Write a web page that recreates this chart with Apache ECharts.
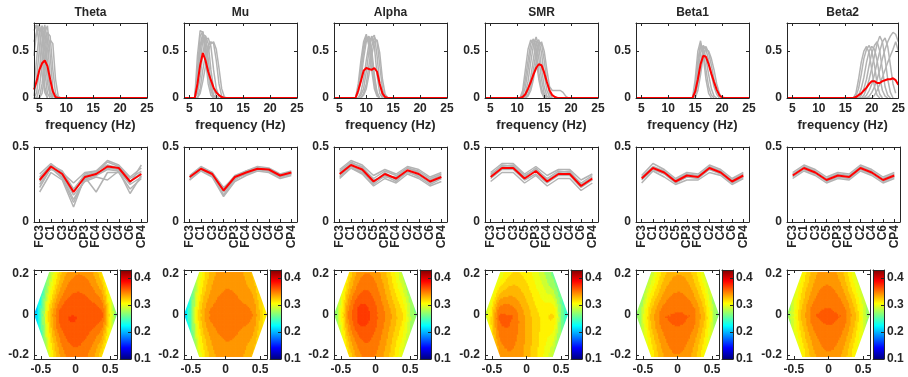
<!DOCTYPE html>
<html><head><meta charset="utf-8">
<script src="https://cdn.jsdelivr.net/npm/echarts@6.0.0/dist/echarts.min.js"></script>
<style>html,body{margin:0;padding:0;background:#fff;}#chart{width:908px;height:377px;}</style>
</head><body><div id="chart"></div>
<script>
// ================= DATA =================
const BANDS = ['Theta', 'Mu', 'Alpha', 'SMR', 'Beta1', 'Beta2'];
const FREQ_RANGE = [4, 25];
const FREQ_STEP = 0.5;
const FREQ_TICKS = [5, 10, 15, 20, 25];
const SPEC_Y_RANGE = [0, 0.8];
const SPEC_Y_TICKS = [0, 0.5];

// spectra: [first frequency (Hz), values every 0.5 Hz]; value is 0 outside the listed segment
const SPEC_GRAY_THETA = [
  [4, [0.78, 0.76, 0.55, 0.25, 0.06, 0]],
  [4, [0.72, 0.78, 0.72, 0.45, 0.12, 0]],
  [4, [0.45, 0.72, 0.78, 0.65, 0.28, 0.05, 0]],
  [4, [0.12, 0.42, 0.72, 0.77, 0.52, 0.16, 0.02, 0]],
  [4, [0.02, 0.22, 0.52, 0.77, 0.72, 0.38, 0.06, 0]],
  [4, [0, 0.06, 0.30, 0.60, 0.78, 0.62, 0.22, 0.03, 0]],
  [4, [0, 0, 0.10, 0.38, 0.70, 0.77, 0.46, 0.10, 0]],
  [4, [0, 0, 0, 0.15, 0.45, 0.70, 0.66, 0.30, 0.05, 0]],
  [4, [0, 0, 0, 0.05, 0.26, 0.52, 0.62, 0.58, 0.20, 0.02, 0]],
  [4, [0.60, 0.70, 0.74, 0.70, 0.55, 0.30, 0.08, 0]]
];
const SPEC_MEAN_THETA = [4, [0.09, 0.18, 0.30, 0.37, 0.40, 0.34, 0.20, 0.07, 0.01, 0]];

const SPEC_GRAY_MU = [
  [6, [0, 0.45, 0.72, 0.70, 0.42, 0.15, 0.03, 0]],
  [6, [0, 0.30, 0.66, 0.71, 0.55, 0.26, 0.08, 0]],
  [6, [0, 0.20, 0.50, 0.68, 0.66, 0.42, 0.16, 0.03, 0]],
  [6, [0, 0.10, 0.38, 0.62, 0.66, 0.58, 0.30, 0.10, 0.02, 0]],
  [6, [0, 0.05, 0.22, 0.48, 0.62, 0.64, 0.55, 0.30, 0.10, 0.02, 0]],
  [6, [0, 0, 0.10, 0.30, 0.46, 0.56, 0.60, 0.58, 0.40, 0.15, 0.02, 0]],
  [6, [0, 0, 0.05, 0.18, 0.34, 0.50, 0.58, 0.60, 0.52, 0.32, 0.10, 0.01, 0]],
  [6, [0, 0.22, 0.56, 0.69, 0.52, 0.30, 0.10, 0.02, 0]]
];
const SPEC_MEAN_MU = [6, [0, 0.15, 0.35, 0.48, 0.40, 0.28, 0.19, 0.11, 0.06, 0.03, 0.01, 0]];

const SPEC_GRAY_ALPHA = [
  [8, [0, 0.15, 0.40, 0.60, 0.68, 0.55, 0.30, 0.10, 0.02, 0]],
  [8, [0, 0.10, 0.32, 0.55, 0.66, 0.62, 0.40, 0.15, 0.03, 0]],
  [8, [0, 0.05, 0.20, 0.42, 0.60, 0.66, 0.52, 0.25, 0.06, 0]],
  [8, [0, 0, 0.06, 0.20, 0.40, 0.58, 0.66, 0.55, 0.25, 0.05, 0]],
  [8, [0, 0, 0.03, 0.10, 0.28, 0.50, 0.64, 0.67, 0.45, 0.15, 0.02, 0]],
  [8, [0, 0, 0, 0.05, 0.15, 0.35, 0.55, 0.65, 0.60, 0.35, 0.10, 0.01, 0]],
  [8, [0, 0.08, 0.28, 0.50, 0.64, 0.60, 0.45, 0.20, 0.05, 0]],
  [8, [0, 0, 0, 0.03, 0.10, 0.25, 0.45, 0.60, 0.62, 0.48, 0.20, 0.04, 0]]
];
const SPEC_MEAN_ALPHA = [8, [0, 0.08, 0.18, 0.29, 0.32, 0.31, 0.30, 0.32, 0.28, 0.15, 0.05, 0.01, 0]];

const SPEC_GRAY_SMR = [
  [10.5, [0, 0.05, 0.20, 0.40, 0.58, 0.63, 0.50, 0.28, 0.10, 0.02, 0]],
  [10.5, [0, 0.02, 0.12, 0.30, 0.50, 0.62, 0.60, 0.42, 0.20, 0.05, 0]],
  [10.5, [0, 0, 0.05, 0.18, 0.38, 0.56, 0.65, 0.55, 0.32, 0.12, 0.02, 0]],
  [10.5, [0, 0, 0.02, 0.08, 0.22, 0.42, 0.60, 0.62, 0.48, 0.25, 0.08, 0.01, 0]],
  [10.5, [0, 0, 0, 0.04, 0.12, 0.30, 0.50, 0.60, 0.58, 0.40, 0.18, 0.05, 0]],
  [10.5, [0, 0, 0, 0.02, 0.08, 0.20, 0.38, 0.55, 0.60, 0.50, 0.30, 0.12, 0.08, 0.08, 0.08, 0.08, 0.06, 0.02, 0]],
  [10.5, [0, 0.08, 0.30, 0.52, 0.62, 0.58, 0.40, 0.20, 0.06, 0]]
];
const SPEC_MEAN_SMR = [10.5, [0, 0.01, 0.04, 0.10, 0.17, 0.25, 0.32, 0.36, 0.35, 0.27, 0.17, 0.08, 0.03, 0.01, 0]];

const SPEC_GRAY_BETA1 = [
  [14.5, [0, 0.20, 0.50, 0.61, 0.45, 0.20, 0.05, 0]],
  [14.5, [0, 0.08, 0.35, 0.55, 0.55, 0.42, 0.25, 0.10, 0.02, 0]],
  [14.5, [0, 0.05, 0.25, 0.48, 0.56, 0.52, 0.40, 0.25, 0.12, 0.04, 0]],
  [14.5, [0, 0.02, 0.15, 0.38, 0.52, 0.55, 0.48, 0.35, 0.20, 0.08, 0.02, 0]],
  [14.5, [0, 0, 0.08, 0.25, 0.45, 0.52, 0.50, 0.42, 0.30, 0.15, 0.05, 0]],
  [14.5, [0, 0.10, 0.40, 0.58, 0.50, 0.30, 0.12, 0.03, 0]]
];
const SPEC_MEAN_BETA1 = [14.5, [0, 0.07, 0.20, 0.36, 0.45, 0.44, 0.36, 0.26, 0.17, 0.09, 0.03, 0.005, 0]];

const SPEC_GRAY_BETA2 = [
  [16.5, [0, 0.05, 0.20, 0.38, 0.50, 0.55, 0.48, 0.30, 0.12, 0.03, 0]],
  [16.5, [0, 0.02, 0.10, 0.25, 0.42, 0.52, 0.56, 0.50, 0.35, 0.15, 0.04, 0]],
  [16.5, [0, 0, 0.03, 0.10, 0.22, 0.38, 0.50, 0.55, 0.52, 0.40, 0.22, 0.08, 0.02, 0]],
  [16.5, [0, 0, 0, 0.03, 0.10, 0.20, 0.35, 0.48, 0.56, 0.60, 0.50, 0.30, 0.12, 0.03, 0]],
  [16.5, [0, 0, 0, 0, 0.03, 0.10, 0.20, 0.32, 0.45, 0.58, 0.66, 0.60, 0.42, 0.20, 0.06, 0]],
  [16.5, [0, 0, 0, 0, 0, 0.03, 0.08, 0.15, 0.25, 0.38, 0.50, 0.60, 0.64, 0.55, 0.35, 0.15, 0.05]],
  [16.5, [0, 0, 0, 0, 0, 0, 0.02, 0.06, 0.12, 0.20, 0.30, 0.42, 0.52, 0.60, 0.66, 0.70, 0.68, 0.60]],
  [16.5, [0, 0, 0, 0, 0, 0, 0, 0, 0.03, 0.08, 0.15, 0.22, 0.30, 0.38, 0.45, 0.52, 0.60, 0.50]]
];
const SPEC_MEAN_BETA2 = [16.5, [0, 0.01, 0.03, 0.05, 0.08, 0.11, 0.15, 0.18, 0.18, 0.16, 0.16, 0.18, 0.19, 0.20, 0.20, 0.21, 0.19, 0.14]];

// channel profiles
const CHANNELS = ['FC3', 'C1', 'C3', 'C5', 'CP3', 'FC4', 'C2', 'C4', 'C6', 'CP4'];
const PROF_Y_RANGE = [0, 0.5];
const PROF_Y_TICKS = [0, 0.5];

const PROF_GRAY_THETA = [
  [0.30, 0.38, 0.34, 0.22, 0.31, 0.33, 0.40, 0.37, 0.29, 0.34],
  [0.25, 0.36, 0.30, 0.15, 0.28, 0.31, 0.35, 0.34, 0.25, 0.30],
  [0.20, 0.33, 0.28, 0.10, 0.30, 0.20, 0.33, 0.33, 0.22, 0.29],
  [0.32, 0.39, 0.33, 0.26, 0.33, 0.34, 0.41, 0.38, 0.30, 0.36],
  [0.27, 0.37, 0.31, 0.18, 0.27, 0.30, 0.28, 0.34, 0.19, 0.31],
  [0.29, 0.35, 0.33, 0.21, 0.32, 0.34, 0.38, 0.36, 0.27, 0.33],
  [0.23, 0.36, 0.29, 0.13, 0.29, 0.32, 0.36, 0.35, 0.26, 0.38]
];
const PROF_MEAN_THETA = [0.28, 0.37, 0.32, 0.20, 0.30, 0.32, 0.37, 0.36, 0.27, 0.32];

const PROF_GRAY_MU = [
  [0.28, 0.35, 0.31, 0.18, 0.29, 0.32, 0.35, 0.34, 0.30, 0.32],
  [0.31, 0.37, 0.33, 0.22, 0.31, 0.34, 0.37, 0.36, 0.32, 0.34],
  [0.29, 0.36, 0.32, 0.20, 0.28, 0.33, 0.36, 0.35, 0.31, 0.33],
  [0.30, 0.36, 0.33, 0.23, 0.30, 0.32, 0.35, 0.34, 0.30, 0.32],
  [0.28, 0.34, 0.30, 0.17, 0.27, 0.31, 0.34, 0.33, 0.29, 0.31],
  [0.30, 0.36, 0.32, 0.21, 0.30, 0.34, 0.36, 0.35, 0.31, 0.33]
];
const PROF_MEAN_MU = [0.30, 0.355, 0.32, 0.21, 0.30, 0.33, 0.355, 0.35, 0.31, 0.33];

const PROF_GRAY_ALPHA = [
  [0.35, 0.41, 0.38, 0.31, 0.35, 0.32, 0.37, 0.35, 0.30, 0.33],
  [0.29, 0.36, 0.32, 0.24, 0.29, 0.26, 0.32, 0.29, 0.24, 0.27],
  [0.34, 0.40, 0.36, 0.29, 0.34, 0.31, 0.36, 0.34, 0.29, 0.32],
  [0.31, 0.37, 0.34, 0.25, 0.31, 0.27, 0.34, 0.30, 0.25, 0.29],
  [0.33, 0.39, 0.37, 0.28, 0.30, 0.30, 0.36, 0.33, 0.28, 0.31],
  [0.30, 0.36, 0.33, 0.26, 0.33, 0.28, 0.33, 0.31, 0.26, 0.30]
];
const PROF_MEAN_ALPHA = [0.32, 0.38, 0.35, 0.27, 0.32, 0.29, 0.345, 0.32, 0.27, 0.30];

const PROF_GRAY_SMR = [
  [0.33, 0.39, 0.39, 0.32, 0.37, 0.31, 0.35, 0.35, 0.28, 0.32],
  [0.27, 0.33, 0.33, 0.26, 0.31, 0.24, 0.29, 0.29, 0.21, 0.26],
  [0.31, 0.38, 0.37, 0.30, 0.36, 0.28, 0.33, 0.34, 0.25, 0.30],
  [0.29, 0.35, 0.35, 0.28, 0.32, 0.26, 0.31, 0.31, 0.23, 0.28],
  [0.32, 0.37, 0.38, 0.31, 0.35, 0.29, 0.34, 0.33, 0.26, 0.31]
];
const PROF_MEAN_SMR = [0.30, 0.36, 0.36, 0.29, 0.34, 0.27, 0.32, 0.32, 0.24, 0.29];

const PROF_GRAY_BETA1 = [
  [0.31, 0.39, 0.35, 0.29, 0.33, 0.32, 0.38, 0.35, 0.29, 0.33],
  [0.26, 0.34, 0.30, 0.25, 0.28, 0.28, 0.33, 0.31, 0.25, 0.29],
  [0.30, 0.37, 0.34, 0.28, 0.32, 0.31, 0.37, 0.34, 0.28, 0.32],
  [0.28, 0.35, 0.32, 0.26, 0.30, 0.29, 0.35, 0.32, 0.26, 0.30]
];
const PROF_MEAN_BETA1 = [0.29, 0.36, 0.33, 0.27, 0.31, 0.30, 0.36, 0.33, 0.27, 0.31];

const PROF_GRAY_BETA2 = [
  [0.33, 0.38, 0.35, 0.30, 0.33, 0.32, 0.38, 0.35, 0.30, 0.33],
  [0.29, 0.34, 0.31, 0.26, 0.29, 0.28, 0.34, 0.31, 0.26, 0.29],
  [0.32, 0.37, 0.34, 0.29, 0.32, 0.31, 0.37, 0.34, 0.29, 0.32],
  [0.30, 0.35, 0.32, 0.27, 0.30, 0.29, 0.35, 0.32, 0.27, 0.30]
];
const PROF_MEAN_BETA2 = [0.31, 0.36, 0.33, 0.28, 0.31, 0.30, 0.36, 0.33, 0.28, 0.31];

// scalp map: electrode coordinates (same order as CHANNELS); maps show the mean values
const ELEC_X = [-0.38, -0.2, -0.4, -0.6, -0.38, 0.38, 0.2, 0.4, 0.6, 0.38];
const ELEC_Y = [0.21, 0, 0, 0, -0.21, 0.21, 0, 0, 0, -0.21];
const MAP_X_RANGE = [-0.6, 0.6];
const MAP_Y_RANGE = [-0.22, 0.22];
const MAP_X_TICKS = [-0.5, 0, 0.5];
const MAP_Y_TICKS = [-0.2, 0, 0.2];
const CBAR_RANGE = [0.1, 0.43];
const CBAR_TICKS = [0.1, 0.2, 0.3, 0.4];
const CONTOUR_LEVELS = [0.10, 0.12, 0.14, 0.16, 0.18, 0.20, 0.215, 0.23, 0.245, 0.26, 0.275, 0.29, 0.30, 0.31, 0.32, 0.33, 0.34, 0.35, 0.36, 0.37, 0.38, 0.40, 0.42];

const SPEC_GRAY = [SPEC_GRAY_THETA, SPEC_GRAY_MU, SPEC_GRAY_ALPHA, SPEC_GRAY_SMR, SPEC_GRAY_BETA1, SPEC_GRAY_BETA2];
const SPEC_MEAN = [SPEC_MEAN_THETA, SPEC_MEAN_MU, SPEC_MEAN_ALPHA, SPEC_MEAN_SMR, SPEC_MEAN_BETA1, SPEC_MEAN_BETA2];
const PROF_GRAY = [PROF_GRAY_THETA, PROF_GRAY_MU, PROF_GRAY_ALPHA, PROF_GRAY_SMR, PROF_GRAY_BETA1, PROF_GRAY_BETA2];
const PROF_MEAN = [PROF_MEAN_THETA, PROF_MEAN_MU, PROF_MEAN_ALPHA, PROF_MEAN_SMR, PROF_MEAN_BETA1, PROF_MEAN_BETA2];

// ================= LAYOUT / STYLE =================
const COL_LEFT = [34, 184, 334, 485, 636, 787];
const PLOT_W = 113;
const ROW_TOP = [23, 147, 270];
const ROW_H = [75, 75, 89];
const MAP_W = 83, CB_GAP = 3, CB_W = 11;
const INK = '#262626';
const FONT = { fontFamily: 'Liberation Sans, Arial, Helvetica, sans-serif', fontWeight: 'bold', fontSize: 12, color: INK };
const GRAY = '#b3b3b3';

function jetRGB(t) {
  t = Math.max(0, Math.min(1, t));
  const c = v => Math.round(255 * Math.max(0, Math.min(1, v)));
  return 'rgb(' + c(1.5 - Math.abs(4 * t - 3)) + ',' + c(1.5 - Math.abs(4 * t - 2)) + ',' + c(1.5 - Math.abs(4 * t - 1)) + ')';
}
const cbT = v => (v - CBAR_RANGE[0]) / (CBAR_RANGE[1] - CBAR_RANGE[0]);

// ---- map rendering: smooth surface through the electrode values ----
function biharmonic(xs, ys, zs) {
  const n = xs.length;
  const g = r => r < 1e-12 ? 0 : r * r * (Math.log(r) - 1);
  const A = [];
  for (let i = 0; i < n; i++) {
    A.push([]);
    for (let j = 0; j < n; j++) A[i].push(g(Math.hypot(xs[i] - xs[j], ys[i] - ys[j])));
    A[i].push(zs[i]);
  }
  for (let k = 0; k < n; k++) {
    let p = k;
    for (let i = k + 1; i < n; i++) if (Math.abs(A[i][k]) > Math.abs(A[p][k])) p = i;
    [A[k], A[p]] = [A[p], A[k]];
    for (let i = k + 1; i < n; i++) {
      const f = A[i][k] / A[k][k];
      for (let j = k; j <= n; j++) A[i][j] -= f * A[k][j];
    }
  }
  const w = new Array(n).fill(0);
  for (let i = n - 1; i >= 0; i--) {
    let s = A[i][n];
    for (let j = i + 1; j < n; j++) s -= A[i][j] * w[j];
    w[i] = s / A[i][i];
  }
  return (x, y) => { let s = 0; for (let j = 0; j < n; j++) s += w[j] * g(Math.hypot(x - xs[j], y - ys[j])); return s; };
}
function mapSurface(xs, ys, zs, NX, NY, xr, yr) {
  const dx = (xr[1] - xr[0]) / NX, dy = (yr[1] - yr[0]) / NY;
  const PX = 10, PY = 24;
  const sum = new Float64Array(NX * NY), cnt = new Float64Array(NX * NY);
  // discrete natural-neighbour accumulation
  for (let i = -PX; i < NX + PX; i++) {
    const qx = xr[0] + (i + 0.5) * dx;
    for (let j = -PY; j < NY + PY; j++) {
      const qy = yr[0] + (j + 0.5) * dy;
      let best = Infinity, bz = 0;
      for (let k = 0; k < xs.length; k++) {
        const d2 = (qx - xs[k]) ** 2 + (qy - ys[k]) ** 2;
        if (d2 < best) { best = d2; bz = zs[k]; }
      }
      const r = Math.sqrt(best);
      const ri = Math.ceil(r / dx), rj = Math.ceil(r / dy);
      const a0 = Math.max(0, i - ri), a1 = Math.min(NX - 1, i + ri);
      const b0 = Math.max(0, j - rj), b1 = Math.min(NY - 1, j + rj);
      for (let a = a0; a <= a1; a++) {
        const ddx = (a - i) * dx, ddx2 = ddx * ddx;
        for (let b = b0; b <= b1; b++) {
          const ddy = (b - j) * dy;
          if (ddx2 + ddy * ddy <= best) { sum[a * NY + b] += bz; cnt[a * NY + b] += 1; }
        }
      }
    }
  }
  const bh = biharmonic(xs, ys, zs);
  const cells = [];
  for (let a = 0; a < NX; a++) for (let b = 0; b < NY; b++) {
    const x = xr[0] + (a + 0.5) * dx, y = yr[0] + (b + 0.5) * dy;
    const nn = cnt[a * NY + b] > 0 ? sum[a * NY + b] / cnt[a * NY + b] : bh(x, y);
    cells.push([x, y, 0.5 * nn + 0.5 * bh(x, y)]);
  }
  return { cells, dx, dy };
}

// convex hull (monotone chain) of electrodes -> upper and lower chains
function hullChains(xs, ys) {
  const pts = xs.map((x, i) => [x, ys[i]]).sort((a, b) => a[0] - b[0] || a[1] - b[1]);
  const cross = (o, a, b) => (a[0] - o[0]) * (b[1] - o[1]) - (a[1] - o[1]) * (b[0] - o[0]);
  const lower = [], upper = [];
  for (const p of pts) { while (lower.length >= 2 && cross(lower[lower.length - 2], lower[lower.length - 1], p) <= 0) lower.pop(); lower.push(p); }
  for (const p of pts) { while (upper.length >= 2 && cross(upper[upper.length - 2], upper[upper.length - 1], p) >= 0) upper.pop(); upper.push(p); }
  return { upper, lower };
}
const HULL = hullChains(ELEC_X, ELEC_Y);

function spectrumPoints(seg, full) {
  const [start, vals] = seg;
  if (!full) return vals.map((v, i) => [start + i * FREQ_STEP, v]);
  const out = [];
  const n = Math.round((FREQ_RANGE[1] - FREQ_RANGE[0]) / FREQ_STEP);
  for (let k = 0; k <= n; k++) {
    const f = FREQ_RANGE[0] + k * FREQ_STEP;
    const idx = Math.round((f - start) / FREQ_STEP);
    out.push([f, idx >= 0 && idx < vals.length ? vals[idx] : 0]);
  }
  return out;
}

// ================= OPTION =================
const grids = [], xAxes = [], yAxes = [], series = [], mapSeriesIdx = [];

function valAxis(gridIndex, pos, min, max, ticks, showLabel, extra) {
  return Object.assign({
    gridIndex, type: 'value', position: pos, min, max, z: 10,
    axisLine: { show: true, onZero: false, lineStyle: { color: INK, width: 1 } },
    axisTick: { show: true, inside: true, length: 3, customValues: ticks, lineStyle: { color: INK } },
    axisLabel: { show: showLabel, customValues: ticks, margin: 5, ...FONT },
    splitLine: { show: false }
  }, extra || {});
}
function catAxis(gridIndex, pos, showLabel) {
  return {
    gridIndex, type: 'category', position: pos, data: CHANNELS, boundaryGap: true, z: 10,
    axisLine: { show: true, onZero: false, lineStyle: { color: INK, width: 1 } },
    axisTick: { show: true, inside: true, length: 3, alignWithLabel: true, interval: 0, lineStyle: { color: INK } },
    axisLabel: { show: showLabel, rotate: 90, interval: 0, margin: 3, ...FONT },
    splitLine: { show: false }
  };
}

BANDS.forEach((band, c) => {
  const L = COL_LEFT[c];
  // ---- row 1 spectra ----
  let gi = grids.length;
  grids.push({ left: L, top: ROW_TOP[0], width: PLOT_W, height: ROW_H[0] });
  let xi = xAxes.length, yi = yAxes.length;
  xAxes.push(valAxis(gi, 'bottom', FREQ_RANGE[0], FREQ_RANGE[1], FREQ_TICKS, true,
    { name: 'frequency (Hz)', nameLocation: 'middle', nameGap: 21, nameTextStyle: { ...FONT, fontSize: 13 } }));
  xAxes.push(valAxis(gi, 'top', FREQ_RANGE[0], FREQ_RANGE[1], FREQ_TICKS, false,
    { name: band, nameLocation: 'middle', nameGap: 4, nameTextStyle: { ...FONT } }));
  yAxes.push(valAxis(gi, 'left', SPEC_Y_RANGE[0], SPEC_Y_RANGE[1], SPEC_Y_TICKS, true));
  yAxes.push(valAxis(gi, 'right', SPEC_Y_RANGE[0], SPEC_Y_RANGE[1], SPEC_Y_TICKS, false));
  SPEC_GRAY[c].forEach(seg => series.push({
    type: 'line', xAxisIndex: xi, yAxisIndex: yi, data: spectrumPoints(seg, false), symbol: 'none',
    lineStyle: { color: GRAY, width: 1.5 }, z: 2, silent: true, animation: false, clip: true
  }));
  series.push({
    type: 'line', xAxisIndex: xi, yAxisIndex: yi, data: spectrumPoints(SPEC_MEAN[c], true), symbol: 'none',
    lineStyle: { color: '#ff0000', width: 2 }, z: 3, silent: true, animation: false, clip: true
  });

  // ---- row 2 channel profiles ----
  gi = grids.length;
  grids.push({ left: L, top: ROW_TOP[1], width: PLOT_W, height: ROW_H[1] });
  xi = xAxes.length; yi = yAxes.length;
  xAxes.push(catAxis(gi, 'bottom', true));
  xAxes.push(catAxis(gi, 'top', false));
  yAxes.push(valAxis(gi, 'left', PROF_Y_RANGE[0], PROF_Y_RANGE[1], PROF_Y_TICKS, true));
  yAxes.push(valAxis(gi, 'right', PROF_Y_RANGE[0], PROF_Y_RANGE[1], PROF_Y_TICKS, false));
  PROF_GRAY[c].forEach(vals => series.push({
    type: 'line', xAxisIndex: xi, yAxisIndex: yi, data: vals, symbol: 'none',
    lineStyle: { color: GRAY, width: 1.5 }, z: 2, silent: true, animation: false
  }));
  series.push({
    type: 'line', xAxisIndex: xi, yAxisIndex: yi, data: PROF_MEAN[c], symbol: 'none',
    lineStyle: { color: '#ff0000', width: 2 }, z: 3, silent: true, animation: false
  });

  // ---- row 3 scalp map ----
  gi = grids.length;
  grids.push({ left: L, top: ROW_TOP[2], width: MAP_W, height: ROW_H[2] });
  xi = xAxes.length; yi = yAxes.length;
  xAxes.push(valAxis(gi, 'bottom', MAP_X_RANGE[0], MAP_X_RANGE[1], MAP_X_TICKS, true));
  xAxes.push(valAxis(gi, 'top', MAP_X_RANGE[0], MAP_X_RANGE[1], MAP_X_TICKS, false));
  yAxes.push(valAxis(gi, 'left', MAP_Y_RANGE[0], MAP_Y_RANGE[1], MAP_Y_TICKS, true));
  yAxes.push(valAxis(gi, 'right', MAP_Y_RANGE[0], MAP_Y_RANGE[1], MAP_Y_TICKS, false));
  const surf = mapSurface(ELEC_X, ELEC_Y, PROF_MEAN[c], 60, 64, MAP_X_RANGE, MAP_Y_RANGE);
  const dx = surf.dx, dy = surf.dy;
  mapSeriesIdx.push(series.length);
  series.push({
    type: 'custom', xAxisIndex: xi, yAxisIndex: yi, data: surf.cells, silent: true, animation: false, clip: true, z: 2,
    progressive: 0, progressiveThreshold: 1e9,
    encode: { x: 0, y: 1 },
    renderItem: (params, api) => {
      const p = api.coord([api.value(0) - dx / 2, api.value(1) + dy / 2]);
      const s = api.size([dx, dy]);
      return { type: 'rect', shape: { x: p[0], y: p[1], width: s[0] + 0.7, height: s[1] + 0.7 }, style: { fill: api.visual('color') } };
    }
  });
  // white outside the electrode hull
  const ymaxPad = MAP_Y_RANGE[1] + 0.05, yminPad = MAP_Y_RANGE[0] - 0.05;
  series.push({
    type: 'custom', xAxisIndex: xi, yAxisIndex: yi, data: [[0, 0]], silent: true, animation: false, clip: true, z: 3,
    progressive: 0,
    renderItem: (params, api) => {
      const up = HULL.upper.map(p => api.coord(p));
      const lo = HULL.lower.map(p => api.coord(p));
      const x0 = MAP_X_RANGE[0] - 0.05, x1 = MAP_X_RANGE[1] + 0.05;
      const topPoly = [api.coord([x0, HULL.upper[0][1]]), api.coord([x0, ymaxPad]), api.coord([x1, ymaxPad]), api.coord([x1, HULL.upper[HULL.upper.length - 1][1]])].concat(up.slice().reverse());
      const botPoly = [api.coord([x0, HULL.lower[0][1]]), api.coord([x0, yminPad]), api.coord([x1, yminPad]), api.coord([x1, HULL.lower[HULL.lower.length - 1][1]])].concat(lo.slice().reverse());
      return { type: 'group', children: [
        { type: 'polygon', shape: { points: topPoly }, style: { fill: '#fff' } },
        { type: 'polygon', shape: { points: botPoly }, style: { fill: '#fff' } }
      ] };
    }
  });

  // ---- colorbar ----
  gi = grids.length;
  grids.push({ left: L + MAP_W + CB_GAP, top: ROW_TOP[2], width: CB_W, height: ROW_H[2] });
  xi = xAxes.length; yi = yAxes.length;
  xAxes.push({ gridIndex: gi, type: 'value', min: 0, max: 1, position: 'bottom', z: 10,
    axisLine: { show: true, onZero: false, lineStyle: { color: INK } }, axisTick: { show: false }, axisLabel: { show: false }, splitLine: { show: false } });
  xAxes.push({ gridIndex: gi, type: 'value', min: 0, max: 1, position: 'top', z: 10,
    axisLine: { show: true, onZero: false, lineStyle: { color: INK } }, axisTick: { show: false }, axisLabel: { show: false }, splitLine: { show: false } });
  yAxes.push(valAxis(gi, 'right', CBAR_RANGE[0], CBAR_RANGE[1], CBAR_TICKS, true, { axisLabel: { show: true, customValues: CBAR_TICKS, margin: 3, ...FONT } }));
  yAxes.push(valAxis(gi, 'left', CBAR_RANGE[0], CBAR_RANGE[1], CBAR_TICKS, false, { axisTick: { show: false } }));
  series.push({
    type: 'custom', xAxisIndex: xi, yAxisIndex: yi, data: [[0, CBAR_RANGE[0], CBAR_RANGE[1]]], silent: true, animation: false, z: 2,
    progressive: 0,
    renderItem: (params, api) => {
      const p0 = api.coord([0, api.value(1)]);
      const p1 = api.coord([1, api.value(2)]);
      return { type: 'rect', shape: { x: p0[0], y: p1[1], width: p1[0] - p0[0], height: p0[1] - p1[1] },
        style: { fill: new echarts.graphic.LinearGradient(0, 1, 0, 0, [
          { offset: 0, color: jetRGB(0) }, { offset: 0.125, color: jetRGB(0.125) }, { offset: 0.375, color: jetRGB(0.375) },
          { offset: 0.625, color: jetRGB(0.625) }, { offset: 0.875, color: jetRGB(0.875) }, { offset: 1, color: jetRGB(1) }]) } };
    }
  });
});

const pieces = [{ lt: CONTOUR_LEVELS[0], color: jetRGB(0) }];
for (let k = 0; k < CONTOUR_LEVELS.length; k++) {
  const p = { gte: CONTOUR_LEVELS[k], color: jetRGB(cbT(CONTOUR_LEVELS[k])) };
  if (k + 1 < CONTOUR_LEVELS.length) p.lt = CONTOUR_LEVELS[k + 1];
  pieces.push(p);
}

const chart = echarts.init(document.getElementById('chart'), null, { renderer: 'canvas' });
chart.setOption({
  backgroundColor: '#ffffff',
  animation: false,
  grid: grids,
  xAxis: xAxes,
  yAxis: yAxes,
  visualMap: [{ type: 'piecewise', show: false, seriesIndex: mapSeriesIdx, dimension: 2, pieces }],
  series
});
</script>
</body></html>
